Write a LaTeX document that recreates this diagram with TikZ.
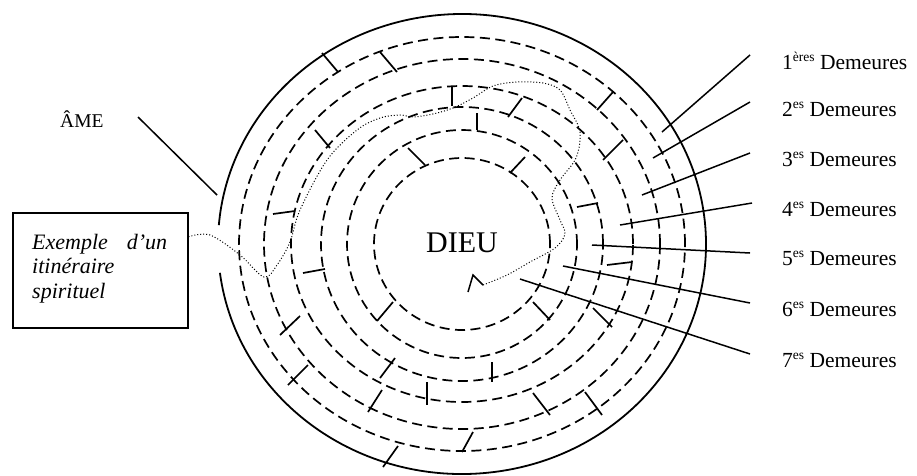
\documentclass[tikz,border=0pt]{standalone}
\usepackage{fontspec}
\setmainfont{Liberation Serif}
\newcommand{\supx}[1]{\raisebox{8pt}{\fontsize{13.5}{14}\selectfont #1}}
\begin{document}
\begin{tikzpicture}[x=1pt,y=-1pt,
  ring/.style={line width=1.7pt, dash pattern=on 10pt off 5.5pt},
  outer/.style={line width=1.8pt},
  wall/.style={line width=1.7pt},
  leader/.style={line width=1.5pt},
  route/.style={line width=1pt, dash pattern=on 1pt off 2pt},
  lbl/.style={anchor=base west, inner sep=0pt, font=\fontsize{21.5}{26}\selectfont}]
\useasboundingbox (0,0) rectangle (917,475);
\coordinate (c) at (462,244);
% outer wall with entrance
\draw[outer] ([shift={(-172.8:244pt and 230pt)}]c) arc[start angle=-172.8, end angle=175.3, x radius=244pt, y radius=230pt];
% dashed rings
\draw[ring] (c) ellipse[x radius=223pt, y radius=207pt];
\draw[ring] (c) ellipse[x radius=198pt, y radius=185pt];
\draw[ring] (c) ellipse[x radius=171pt, y radius=158pt];
\draw[ring] (c) ellipse[x radius=141pt, y radius=137pt];
\draw[ring] (c) ellipse[x radius=115pt, y radius=114pt];
\draw[ring] (c) ellipse[x radius=88pt, y radius=86pt];
% walls
\draw[wall] (322,53) -- (338,72);
\draw[wall] (380,52) -- (397,72);
\draw[wall] (452,87) -- (452,106);
\draw[wall] (315,130) -- (330,148);
\draw[wall] (408,148) -- (425,165);
\draw[wall] (273,214) -- (295,211);
\draw[wall] (597,110) -- (613,92);
\draw[wall] (508,117) -- (522,98);
\draw[wall] (477,113) -- (477,130);
\draw[wall] (603,160) -- (623,140);
\draw[wall] (510,173) -- (525,157);
\draw[wall] (577,207) -- (598,203);
\draw[wall] (303,273) -- (325,269);
\draw[wall] (280,335) -- (300,316);
\draw[wall] (288,385) -- (308,365);
\draw[wall] (377,321) -- (393,302);
\draw[wall] (380,378) -- (395,358);
\draw[wall] (368,412) -- (382,390);
\draw[wall] (427,382) -- (427,405);
\draw[wall] (383,467) -- (398,446);
\draw[wall] (607,265) -- (632,262);
\draw[wall] (533,302) -- (550,320);
\draw[wall] (593,308) -- (612,327);
\draw[wall] (492,362) -- (492,382);
\draw[wall] (533,393) -- (550,415);
\draw[wall] (585,392) -- (602,415);
\draw[wall] (473,432) -- (462,452);
% texts
\node[anchor=base west, inner sep=0pt, font=\fontsize{30}{36}\selectfont] (dieu) at (426,252) {DIEU};
\node[anchor=base west, inner sep=0pt, font=\fontsize{19.5}{24}\selectfont] (ame) at (60,127) {ÂME};
\node[draw, line width=1.5pt, anchor=north west, minimum width=175pt, minimum height=115pt, inner sep=0pt] (ex) at (12,212) {};
\node[anchor=north west, inner sep=0pt, align=left, font=\fontsize{22}{24.5}\selectfont\itshape] (extext) at (32,234) {\makebox[135pt][s]{Exemple d’un}\\itinéraire\\spirituel};
\node[lbl] (d1) at (782,69) {1\supx{ères} Demeures};
\node[lbl] (d2) at (782,116) {2\supx{es} Demeures};
\node[lbl] (d3) at (782,166) {3\supx{es} Demeures};
\node[lbl] (d4) at (782,216) {4\supx{es} Demeures};
\node[lbl] (d5) at (782,265) {5\supx{es} Demeures};
\node[lbl] (d6) at (782,316) {6\supx{es} Demeures};
\node[lbl] (d7) at (782,367) {7\supx{es} Demeures};
% leader lines
\coordinate (a1) at (750,55);  \coordinate (b1) at (662,132);
\coordinate (a2) at (750,102); \coordinate (b2) at (653,158);
\coordinate (a3) at (750,153); \coordinate (b3) at (642,195);
\coordinate (a4) at (752,203); \coordinate (b4) at (620,225);
\coordinate (a5) at (750,253); \coordinate (b5) at (592,245);
\coordinate (a6) at (750,303); \coordinate (b6) at (563,266);
\coordinate (a7) at (750,354); \coordinate (b7) at (520,279);
\foreach \i in {1,...,7} {\draw[leader] (a\i) -- (b\i);}
\coordinate (amea) at (138,117); \coordinate (ameb) at (217,195);
\draw[leader] (amea) -- (ameb);
% spiritual route
\coordinate (p0) at ([yshift=33.5pt]ex.east);
\coordinate (pend) at (483,285);
\draw[route] plot[smooth, tension=0.55] coordinates {(p0) (210,235) (240,255) (264,277) (277,265) (290,242) (300,210) (327,160) (357,130) (380,118) (400,115) (413,117) (433,114) (453,108) (473,98) (493,86) (517,82) (543,83) (560,90) (570,110) (580,132) (576,158) (560,180) (552,198) (560,220) (565,234) (555,248) (530,262) (507,275) (pend)};
\draw[line width=1.5pt] (468,292) -- (473,275) -- (pend);
\end{tikzpicture}
\end{document}
